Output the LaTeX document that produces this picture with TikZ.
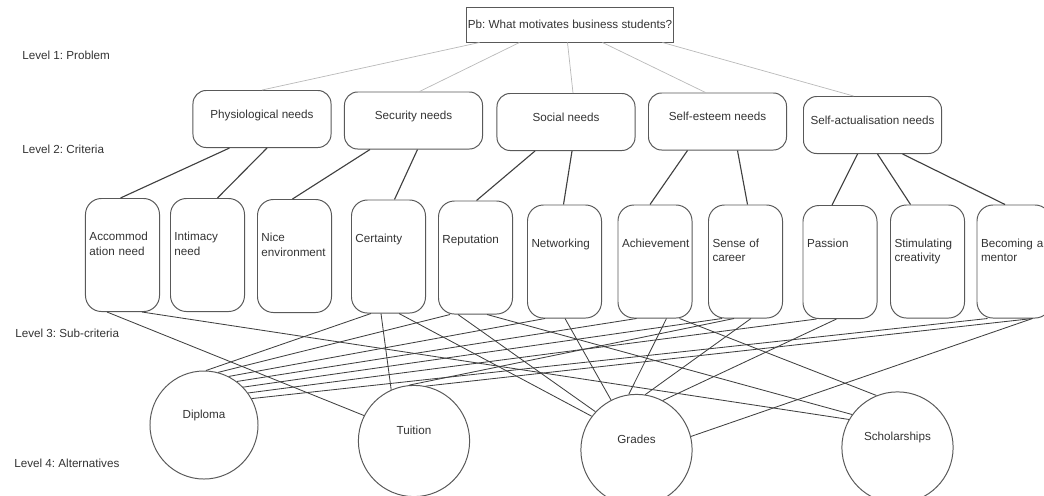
\documentclass[tikz,border=0pt]{standalone}
\usepackage{fontspec}
\setmainfont{Liberation Sans}
\usetikzlibrary{calc}
\frenchspacing
\begin{document}
\begin{tikzpicture}[x=0.025cm, y=-0.025cm,
    font=\fontsize{8.3}{10.5}\selectfont, text=black!80,
    probbox/.style={draw=black!65, line width=0.7pt, minimum width=5.15cm, minimum height=0.875cm, inner sep=0pt},
    critbox/.style={draw=black!65, line width=0.7pt, rounded corners=0.33cm, minimum width=3.45cm, minimum height=1.425cm, text height=0.22cm, text depth=0.27cm},
    subbox/.style={draw=black!65, line width=0.7pt, rounded corners=0.4cm, minimum width=1.85cm, minimum height=2.825cm, text width=1.65cm, align=left, inner xsep=0.1cm, inner ysep=0.83cm, text height=0.22cm, text depth=0.945cm},
    altnode/.style={draw=black!65, line width=0.7pt, circle, minimum size=2.78cm, text height=0.22cm, text depth=0.57cm},
    toplink/.style={gray!55, line width=0.5pt},
    critlink/.style={black!75, line width=0.8pt},
    altlink/.style={black!75, line width=0.6pt},
    levellabel/.style={anchor=west, inner sep=0pt}]
    \useasboundingbox (0,0) rectangle (1044,495);
    \clip (0,0) rectangle (1044,495);
    \node[levellabel] (lv1) at (22,55) {Level 1: Problem};
    \node[levellabel] (lv2) at (22,149) {Level 2: Criteria};
    \node[levellabel] (lv3) at (15,333) {Level 3: Sub-criteria};
    \node[levellabel] (lv4) at (14,463) {Level 4: Alternatives};
    \node[probbox] (pb) at (570,24.5) {Pb: What motivates business students?};
    \node[critbox] (phys) at (262,119) {Physiological needs};
    \node[critbox] (secu) at (413.5,120.5) {Security needs};
    \node[critbox] (soci) at (566,122) {Social needs};
    \node[critbox] (este) at (717.5,121.5) {Self-esteem needs};
    \node[critbox] (sact) at (872.5,125) {Self-actualisation needs};
    \node[subbox] (acco) at (122.5,255) {Accommod\\ation need};
    \node[subbox] (inti) at (207.5,255) {Intimacy\\need};
    \node[subbox] (nice) at (294.5,256) {Nice\\environment};
    \node[subbox] (cert) at (388.5,256.5) {Certainty};
    \node[subbox] (repu) at (475.5,257.5) {Reputation};
    \node[subbox] (netw) at (564.5,261.5) {Networking};
    \node[subbox] (achi) at (655,261.5) {Achievement};
    \node[subbox] (sens) at (745.5,261.5) {Sense of\\career};
    \node[subbox] (pass) at (840,262) {Passion};
    \node[subbox] (stim) at (927.5,261.5) {Stimulating\\creativity};
    \node[subbox] (ment) at (1014,261.5) {Becoming a\\mentor};
    \node[altnode, minimum size=2.7cm] (dipl) at (204,425) {Diploma};
    \node[altnode] (tuit) at (414,441) {Tuition};
    \node[altnode] (grad) at (636.5,450) {Grades};
    \node[altnode] (scho) at (897.5,447.5) {Scholarships};
    \draw[toplink] ($(pb.south west)+(13,0)$) -- (phys.north);
    \draw[toplink] ($(pb.south west)+(53,0)$) -- ($(secu.north)+(6,0)$);
    \draw[toplink] ($(pb.south west)+(101,0)$) -- ($(soci.north)+(7,0)$);
    \draw[toplink] ($(pb.south west)+(136,0)$) -- ($(este.north)+(-12,0)$);
    \draw[toplink] ($(pb.south west)+(196,0)$) -- ($(sact.north)+(-19,0)$);
    \draw[critlink] ($(phys.south west)+(37,0)$) -- ($(acco.north)+(-2,0)$);
    \draw[critlink] ($(phys.south)+(5,0)$) -- ($(inti.north)+(10,0)$);
    \draw[critlink] ($(secu.south west)+(26,0)$) -- ($(nice.north)+(-2,0)$);
    \draw[critlink] ($(secu.south)+(4,0)$) -- ($(cert.north)+(6,0)$);
    \draw[critlink] ($(soci.south)+(-31,0)$) -- ($(repu.north)+(1,0)$);
    \draw[critlink] ($(soci.south)+(6,0)$) -- ($(netw.north)+(-1,0)$);
    \draw[critlink] ($(este.south)+(-30,0)$) -- ($(achi.north)+(-5,0)$);
    \draw[critlink] ($(este.south)+(20,0)$) -- ($(sens.north)+(2,0)$);
    \draw[critlink] ($(sact.south)+(-15,0)$) -- ($(pass.north)+(-8,0)$);
    \draw[critlink] ($(sact.south)+(5,0)$) -- ($(stim.north)+(-17,0)$);
    \draw[critlink] ($(sact.south)+(30,0)$) -- ($(ment.north)+(-9,0)$);
    \draw[altlink] (dipl.88) -- ($(cert.south west)+(20,0)$);
    \draw[altlink] (dipl.75) -- ($(repu.south west)+(12,0)$);
    \draw[altlink] (dipl.63) -- ($(netw.south west)+(18,0)$);
    \draw[altlink] (dipl.53) -- ($(achi.south west)+(19,0)$);
    \draw[altlink] (dipl.44) -- ($(sens.south west)+(14,0)$);
    \draw[altlink] (dipl.36) -- ($(pass.south west)+(14,0)$);
    \draw[altlink] (dipl.29) -- ($(ment.south west)+(11,0)$);
    \draw[altlink] (tuit.153) -- ($(acco.south west)+(22,0)$);
    \draw[altlink] (tuit.114) -- ($(cert.south west)+(30,0)$);
    \draw[altlink] (tuit.95) -- ($(sens.south west)+(26,0)$);
    \draw[altlink] (tuit.78) -- ($(ment.south west)+(56,0)$);
    \draw[altlink] (grad.143) -- ($(cert.south west)+(48,0)$);
    \draw[altlink] (grad.137) -- ($(repu.south west)+(20,0)$);
    \draw[altlink] (grad.117) -- ($(netw.south west)+(38,0)$);
    \draw[altlink] (grad.98) -- ($(achi.south west)+(49,0)$);
    \draw[altlink] (grad.81) -- ($(sens.south west)+(43,0)$);
    \draw[altlink] (grad.62) -- ($(pass.south west)+(34,0)$);
    \draw[altlink] (grad.14) -- ($(ment.south west)+(56,0)$);
    \draw[altlink] (scho.150) -- ($(acco.south west)+(57,0)$);
    \draw[altlink] (scho.144) -- ($(repu.south west)+(49,0)$);
    \draw[altlink] (scho.112) -- ($(achi.south west)+(62,0)$);
\end{tikzpicture}
\end{document}
